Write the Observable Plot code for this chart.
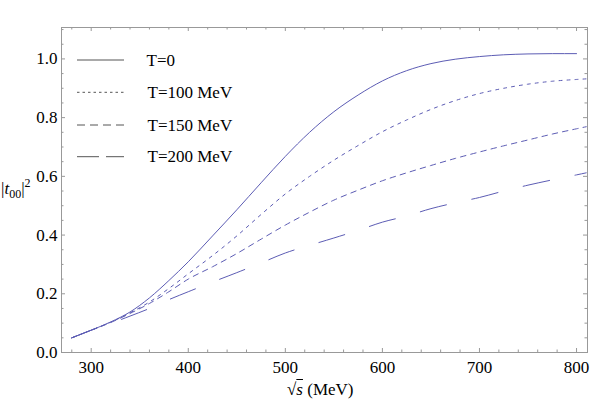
<!DOCTYPE html>
<html>
<head>
<meta charset="utf-8">
<script src="https://cdn.jsdelivr.net/npm/d3@7"></script>
<script src="https://cdn.jsdelivr.net/npm/@observablehq/plot@0.6"></script>
<style>
  body { margin: 0; background: #fff; }
  #wrap { position: relative; width: 595px; height: 403px; font-family: "Liberation Serif", serif; color: #000; }
  #wrap svg.plot { position: absolute; left: 0; top: 0; }
  .lab { position: absolute; white-space: nowrap; font-family: "Liberation Serif", serif; font-size: 17px; line-height: 1; }
  .leg { position: absolute; left: 0; top: 0; }
  .legtxt { position: absolute; font-family: "Liberation Serif", serif; font-size: 17px; line-height: 17px; white-space: nowrap; }
</style>
</head>
<body>
<div id="wrap"></div>
<script>
// ---- data ----
const seriesNames = ["T=0", "T=100 MeV", "T=150 MeV", "T=200 MeV"];

const sT0 = [280, 300, 320, 340, 360, 380, 400, 425, 450, 475, 500, 525, 550, 575, 600, 625, 650, 675, 700, 725, 750, 775, 800];
const vT0 = [0.050, 0.076, 0.104, 0.138, 0.186, 0.245, 0.309, 0.397, 0.486, 0.578, 0.668, 0.750, 0.820, 0.877, 0.925, 0.960, 0.984, 0.999, 1.008, 1.014, 1.017, 1.018, 1.018];

const sT100 = [280, 300, 320, 340, 360, 380, 400, 425, 450, 475, 500, 525, 550, 575, 600, 625, 650, 675, 700, 725, 750, 775, 800, 810];
const vT100 = [0.050, 0.076, 0.103, 0.135, 0.172, 0.218, 0.268, 0.330, 0.397, 0.470, 0.540, 0.600, 0.655, 0.705, 0.752, 0.792, 0.828, 0.858, 0.882, 0.900, 0.914, 0.924, 0.930, 0.932];

const sT150 = [280, 300, 320, 340, 360, 380, 400, 425, 450, 475, 500, 525, 550, 575, 600, 625, 650, 675, 700, 725, 750, 775, 800, 810];
const vT150 = [0.050, 0.076, 0.102, 0.133, 0.167, 0.207, 0.250, 0.292, 0.337, 0.386, 0.434, 0.478, 0.519, 0.553, 0.585, 0.612, 0.637, 0.661, 0.683, 0.704, 0.724, 0.744, 0.762, 0.769];

const sT200 = [280, 300, 320, 340, 360, 380, 400, 425, 450, 475, 500, 525, 550, 575, 600, 625, 650, 675, 700, 725, 750, 775, 800, 810];
const vT200 = [0.050, 0.076, 0.099, 0.124, 0.150, 0.180, 0.207, 0.240, 0.272, 0.305, 0.339, 0.365, 0.390, 0.416, 0.444, 0.465, 0.490, 0.510, 0.528, 0.550, 0.570, 0.588, 0.605, 0.612];

const xMajorTicks = [300, 400, 500, 600, 700, 800];
const xMinorTicks = [280, 320, 340, 360, 380, 420, 440, 460, 480, 520, 540, 560, 580, 620, 640, 660, 680, 720, 740, 760, 780];
const yMajorTicks = [0, 0.2, 0.4, 0.6, 0.8, 1.0];
const yMinorTicks = [0.05, 0.1, 0.15, 0.25, 0.3, 0.35, 0.45, 0.5, 0.55, 0.65, 0.7, 0.75, 0.85, 0.9, 0.95, 1.05, 1.1];

// ---- build ----
const W = 595, H = 403, mL = 61, mR = 8, mT = 27, mB = 51;
const innerW = W - mL - mR, innerH = H - mT - mB;
const lineColor = "#5c5cb4";
const tickColor = "#999";
const dashes = [null, "3,5", "5.5,5", "27,26"];
const serif = '"Liberation Serif", serif';

const toRows = (s, v) => s.map((x, i) => ({s: x, v: v[i]}));
const allSeries = [toRows(sT0, vT0), toRows(sT100, vT100), toRows(sT150, vT150), toRows(sT200, vT200)];

const chart = Plot.plot({
  width: W, height: H,
  marginLeft: mL, marginRight: mR, marginTop: mT, marginBottom: mB,
  style: {fontFamily: serif, fontSize: "17px", color: "#000", background: "transparent"},
  x: {domain: [269.4, 811.3]},
  y: {domain: [0, 1.107]},
  marks: [
    // ticks inside the frame, on all four sides
    Plot.tickX(xMajorTicks, {x: d => d, insetTop: innerH - 4, stroke: tickColor}),
    Plot.tickX(xMajorTicks, {x: d => d, insetBottom: innerH - 4, stroke: tickColor}),
    Plot.tickX(xMinorTicks, {x: d => d, insetTop: innerH - 2.5, stroke: tickColor}),
    Plot.tickX(xMinorTicks, {x: d => d, insetBottom: innerH - 2.5, stroke: tickColor}),
    Plot.tickY(yMajorTicks, {y: d => d, insetRight: innerW - 4, stroke: tickColor}),
    Plot.tickY(yMajorTicks, {y: d => d, insetLeft: innerW - 4, stroke: tickColor}),
    Plot.tickY(yMinorTicks, {y: d => d, insetRight: innerW - 2.5, stroke: tickColor}),
    Plot.tickY(yMinorTicks, {y: d => d, insetLeft: innerW - 2.5, stroke: tickColor}),
    Plot.axisX(xMajorTicks, {tickSize: 0, tickPadding: 8, tickFormat: d => String(d), label: null, fill: "#000", fontSize: 17, fontFamily: serif}),
    Plot.axisY(yMajorTicks, {tickSize: 0, tickPadding: 4, tickFormat: d3.format(".1f"), label: null, fill: "#000", fontSize: 17, fontFamily: serif}),
    ...allSeries.map((rows, i) => Plot.line(rows, {
      x: "s", y: "v", stroke: lineColor, strokeWidth: 1, curve: "monotone-x",
      strokeDasharray: dashes[i] || undefined
    })),
    Plot.frame({stroke: tickColor, strokeWidth: 1})
  ]
});
chart.classList.add("plot");
const wrap = document.getElementById("wrap");
wrap.appendChild(chart);

// ---- legend (inside the frame, top-left) ----
const legendDash = [null, "2.5,3", "8,5", "22,7"];
const legendY = [60, 92.3, 125, 156.7];
const legSvg = d3.create("svg").attr("class", "leg").attr("width", W).attr("height", H);
seriesNames.forEach((name, i) => {
  legSvg.append("line")
    .attr("x1", 77).attr("x2", 124)
    .attr("y1", legendY[i]).attr("y2", legendY[i])
    .attr("stroke", "#555").attr("stroke-width", 1)
    .attr("stroke-dasharray", legendDash[i]);
  const t = document.createElement("div");
  t.className = "legtxt";
  t.textContent = name;
  t.style.left = (i === 0 ? 146.5 : 147.5) + "px";
  t.style.top = (legendY[i] - 8.5) + "px";
  wrap.appendChild(t);
});
wrap.appendChild(legSvg.node());

// ---- axis titles ----
const xl = document.createElement("div");
xl.className = "lab";
xl.innerHTML = '√<span style="text-decoration: overline; font-style: italic;">s</span> (MeV)';
xl.style.left = "287px";
xl.style.top = "381px";
wrap.appendChild(xl);

const yl = document.createElement("div");
yl.className = "lab";
yl.innerHTML = '|<i>t</i><sub style="font-size:12px;">00</sub>|<sup style="font-size:12px;">2</sup>';
yl.style.left = "1px";
yl.style.top = "177px";
wrap.appendChild(yl);
</script>
</body>
</html>
